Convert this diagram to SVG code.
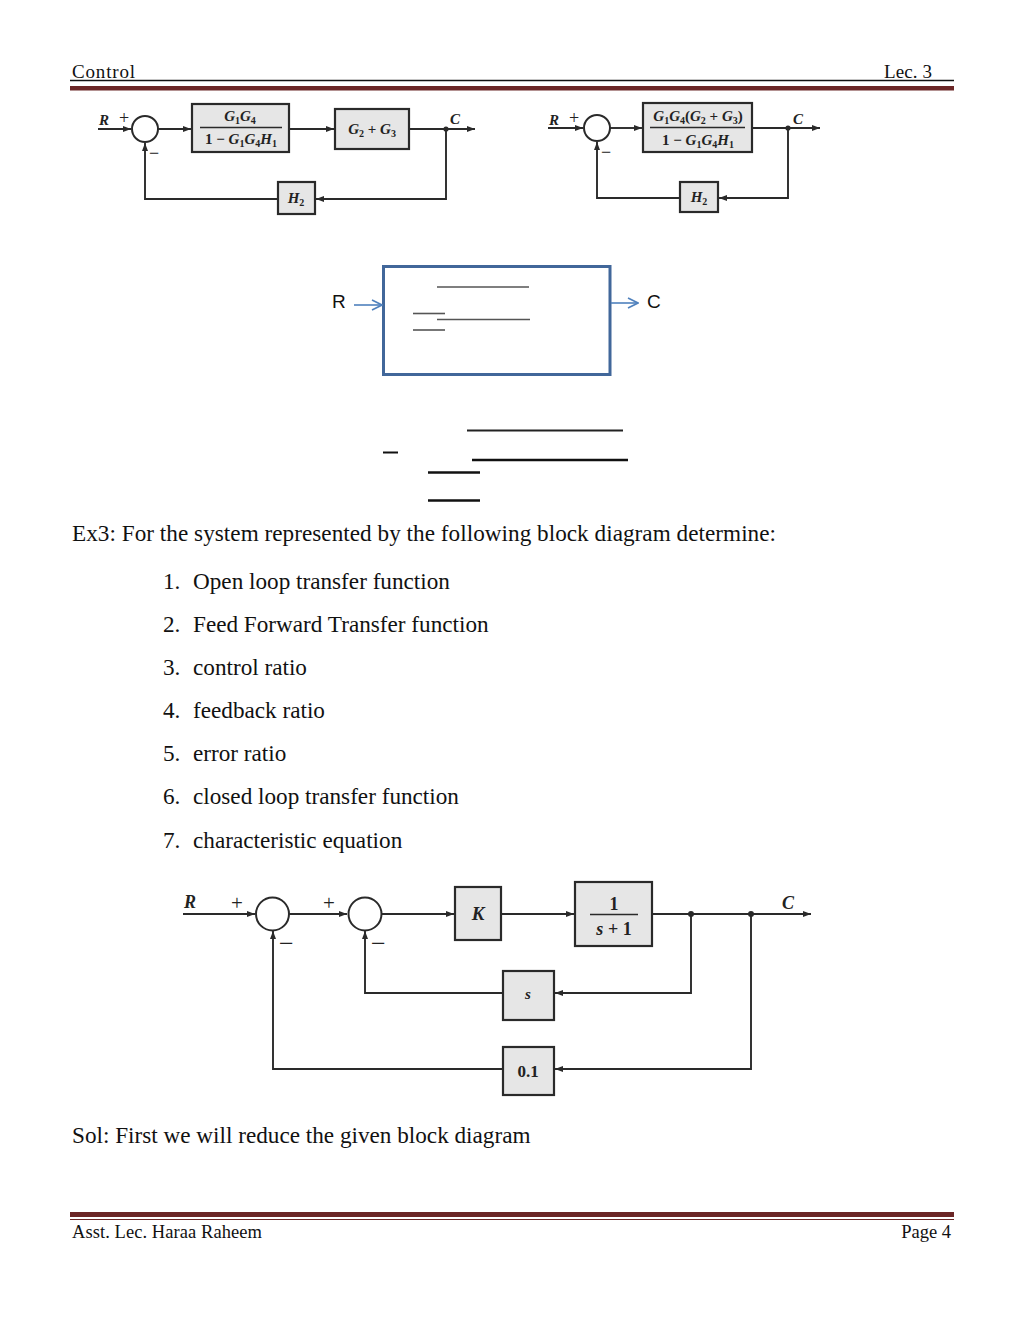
<svg xmlns="http://www.w3.org/2000/svg" width="1024" height="1325" viewBox="0 0 1024 1325">
<style>
.hdr{font-family:"Liberation Serif",serif;font-size:19px;fill:#111}
.body{font-family:"Liberation Serif",serif;font-size:23.2px;fill:#111}
.m{font-family:"Liberation Serif",serif;font-weight:bold;font-style:italic;fill:#222}
.u{font-style:normal}
.op{font-family:"Liberation Serif",serif;fill:#222}
.ln{fill:none;stroke:#2a2a2a;stroke-width:1.9}
.blk{fill:#e6e6e6;stroke:#2a2a2a;stroke-width:2.2}
.sum{fill:#fff;stroke:#2a2a2a;stroke-width:2}
.bl{fill:none;stroke:#4f81bd;stroke-width:1.6}
.gl{stroke:#555;stroke-width:1.6}
.kl{stroke:#111;stroke-width:2.5}
.cal{font-family:"Liberation Sans",sans-serif;font-size:19px;fill:#111}
</style>
<defs>
<marker id="ah" markerUnits="userSpaceOnUse" markerWidth="8" markerHeight="6" refX="8" refY="3" orient="auto">
<path d="M0,0 L8,3 L0,6 z" fill="#2a2a2a"/>
</marker>
<marker id="ab" markerUnits="userSpaceOnUse" markerWidth="12" markerHeight="12" refX="11" refY="6" orient="auto">
<path d="M1,1 L11,6 L1,11" fill="none" stroke="#4f81bd" stroke-width="1.6"/>
</marker>
</defs>
<rect width="1024" height="1325" fill="#fff"/>

<g id="header">
<text class="hdr" x="72" y="78" textLength="63">Control</text>
<text class="hdr" x="884" y="78" textLength="48">Lec. 3</text>
<line x1="70" y1="80.5" x2="954" y2="80.5" stroke="#111" stroke-width="1.3"/>
<rect x="70" y="86" width="884" height="4.5" fill="#6b2626"/>
</g>

<g id="footer">
<rect x="70" y="1212" width="884" height="5" fill="#6b2626"/>
<line x1="70" y1="1219.5" x2="954" y2="1219.5" stroke="#6b2626" stroke-width="1"/>
<text class="hdr" x="72" y="1238" textLength="190" style="font-size:18.5px">Asst. Lec. Haraa Raheem</text>
<text class="hdr" x="951" y="1238" text-anchor="end" style="font-size:18.5px">Page 4</text>
</g>

<!-- Top-left diagram -->
<g id="d1-labels">
<text class="m" x="99" y="125" font-size="15">R</text>
<text class="op" x="119" y="124" font-size="18">+</text>
<text class="op" x="149" y="159" font-size="18">−</text>
<text class="m" x="450" y="124" font-size="15">C</text>
</g>
<g id="d1-sum"><circle class="sum" cx="145" cy="129" r="13"/></g>
<g id="d1-b1">
<rect class="blk" x="192" y="104" width="97" height="48"/>
<text class="m" x="240" y="121" font-size="15" text-anchor="middle">G<tspan class="u" font-size="10" dy="3">1</tspan><tspan dy="-3">G</tspan><tspan class="u" font-size="10" dy="3">4</tspan></text>
<line x1="200" y1="127.5" x2="282" y2="127.5" stroke="#2a2a2a" stroke-width="1.3"/>
<text class="m" x="241" y="144" font-size="15" text-anchor="middle"><tspan class="u">1 − </tspan>G<tspan class="u" font-size="10" dy="3">1</tspan><tspan dy="-3">G</tspan><tspan class="u" font-size="10" dy="3">4</tspan><tspan dy="-3">H</tspan><tspan class="u" font-size="10" dy="3">1</tspan></text>
</g>
<g id="d1-b2">
<rect class="blk" x="335" y="109" width="74" height="40"/>
<text class="m" x="372" y="134" font-size="15" text-anchor="middle">G<tspan class="u" font-size="10" dy="3">2</tspan><tspan class="u" dy="-3"> + </tspan>G<tspan class="u" font-size="10" dy="3">3</tspan></text>
</g>
<g id="d1-h2">
<rect class="blk" x="278" y="182" width="37" height="32"/>
<text class="m" x="296" y="203" font-size="15" text-anchor="middle">H<tspan class="u" font-size="10" dy="3">2</tspan></text>
</g>
<g id="d1-connectors">
<path class="ln" d="M98,129 H131" marker-end="url(#ah)"/>
<path class="ln" d="M158,129 H191" marker-end="url(#ah)"/>
<path class="ln" d="M289,129 H334" marker-end="url(#ah)"/>
<path class="ln" d="M409,129 H475" marker-end="url(#ah)"/>
<circle cx="446" cy="129" r="2.6" fill="#2a2a2a"/>
<path class="ln" d="M446,129 V199 H316" marker-end="url(#ah)"/>
<path class="ln" d="M278,199 H145 V143" marker-end="url(#ah)"/>
</g>

<!-- Top-right diagram -->
<g id="d2-labels">
<text class="m" x="549" y="125" font-size="15">R</text>
<text class="op" x="569" y="124" font-size="18">+</text>
<text class="op" x="601" y="158" font-size="18">−</text>
<text class="m" x="793" y="124" font-size="15">C</text>
</g>
<g id="d2-sum"><circle class="sum" cx="597" cy="128" r="13"/></g>
<g id="d2-b1">
<rect class="blk" x="643" y="103" width="109" height="49"/>
<text class="m" x="698" y="121" font-size="15" text-anchor="middle">G<tspan class="u" font-size="10" dy="3">1</tspan><tspan dy="-3">G</tspan><tspan class="u" font-size="10" dy="3">4</tspan><tspan class="u" dy="-3">(</tspan>G<tspan class="u" font-size="10" dy="3">2</tspan><tspan class="u" dy="-3"> + </tspan>G<tspan class="u" font-size="10" dy="3">3</tspan><tspan class="u" dy="-3">)</tspan></text>
<line x1="650" y1="127.5" x2="745" y2="127.5" stroke="#2a2a2a" stroke-width="1.3"/>
<text class="m" x="698" y="145" font-size="15" text-anchor="middle"><tspan class="u">1 − </tspan>G<tspan class="u" font-size="10" dy="3">1</tspan><tspan dy="-3">G</tspan><tspan class="u" font-size="10" dy="3">4</tspan><tspan dy="-3">H</tspan><tspan class="u" font-size="10" dy="3">1</tspan></text>
</g>
<g id="d2-h2">
<rect class="blk" x="680" y="182" width="38" height="30"/>
<text class="m" x="699" y="202" font-size="15" text-anchor="middle">H<tspan class="u" font-size="10" dy="3">2</tspan></text>
</g>
<g id="d2-connectors">
<path class="ln" d="M548,128 H583" marker-end="url(#ah)"/>
<path class="ln" d="M610,128 H642" marker-end="url(#ah)"/>
<path class="ln" d="M752,128 H820" marker-end="url(#ah)"/>
<circle cx="788" cy="128" r="2.6" fill="#2a2a2a"/>
<path class="ln" d="M788,128 V198 H719" marker-end="url(#ah)"/>
<path class="ln" d="M680,198 H597 V142" marker-end="url(#ah)"/>
</g>

<!-- Middle block -->
<g id="mid-box">
<rect x="383.5" y="266.5" width="226.5" height="108" fill="none" stroke="#41679a" stroke-width="3"/>
<line class="gl" x1="437" y1="287" x2="529" y2="287"/>
<line class="gl" x1="413" y1="313.5" x2="445" y2="313.5"/>
<line class="gl" x1="437" y1="319.5" x2="530" y2="319.5"/>
<line class="gl" x1="413" y1="330" x2="445" y2="330"/>
</g>
<g id="mid-labels">
<text class="cal" x="332" y="308">R</text>
<text class="cal" x="647" y="308">C</text>
</g>
<g id="mid-connectors">
<path class="bl" d="M354,305 H382" marker-end="url(#ab)"/>
<path class="bl" d="M611,303 H638" marker-end="url(#ab)"/>
</g>

<g id="fraction-lines">
<line x1="467" y1="430.5" x2="623" y2="430.5" stroke="#222" stroke-width="2"/>
<line x1="383" y1="452.5" x2="398" y2="452.5" stroke="#111" stroke-width="2"/>
<line class="kl" x1="472" y1="460" x2="628" y2="460"/>
<line class="kl" x1="428" y1="472.5" x2="480" y2="472.5"/>
<line class="kl" x1="428" y1="500.5" x2="480" y2="500.5"/>
</g>

<g id="text">
<text class="body" x="72" y="541" textLength="704">Ex3: For the system represented by the following block diagram determine:</text>
<text class="body" x="163" y="589">1.</text><text class="body" x="193" y="589">Open loop transfer function</text>
<text class="body" x="163" y="632">2.</text><text class="body" x="193" y="632">Feed Forward Transfer function</text>
<text class="body" x="163" y="675">3.</text><text class="body" x="193" y="675">control ratio</text>
<text class="body" x="163" y="718">4.</text><text class="body" x="193" y="718">feedback ratio</text>
<text class="body" x="163" y="761">5.</text><text class="body" x="193" y="761">error ratio</text>
<text class="body" x="163" y="804">6.</text><text class="body" x="193" y="804">closed loop transfer function</text>
<text class="body" x="163" y="848">7.</text><text class="body" x="193" y="848">characteristic equation</text>
<text class="body" x="72" y="1143">Sol: First we will reduce the given block diagram</text>
</g>

<!-- Bottom diagram -->
<g id="d3-labels">
<text class="m" x="184" y="908" font-size="18">R</text>
<text class="op" x="231" y="910" font-size="21">+</text>
<text class="op" x="323" y="910" font-size="21">+</text>
<text class="op" x="279" y="952" font-size="26">−</text>
<text class="op" x="371" y="952" font-size="26">−</text>
<text class="m" x="782" y="909" font-size="18">C</text>
</g>
<g id="d3-sum1"><circle class="sum" cx="272.5" cy="914" r="16.5"/></g>
<g id="d3-sum2"><circle class="sum" cx="365" cy="914" r="16.5"/></g>
<g id="d3-k">
<rect class="blk" x="455" y="887" width="46" height="53"/>
<text class="m" x="478" y="920" font-size="19" text-anchor="middle">K</text>
</g>
<g id="d3-plant">
<rect class="blk" x="575" y="882" width="77" height="64"/>
<text class="m u" x="614" y="910" font-size="18" text-anchor="middle">1</text>
<line x1="590" y1="914.5" x2="638" y2="914.5" stroke="#2a2a2a" stroke-width="1.3"/>
<text class="m" x="614" y="935" font-size="18" text-anchor="middle">s<tspan class="u"> + 1</tspan></text>
</g>
<g id="d3-s">
<rect class="blk" x="503" y="971" width="51" height="49"/>
<text class="m" x="528" y="999" font-size="15" text-anchor="middle">s</text>
</g>
<g id="d3-01">
<rect class="blk" x="503" y="1047" width="51" height="48"/>
<text class="m u" x="528" y="1077" font-size="17" text-anchor="middle">0.1</text>
</g>
<g id="d3-connectors">
<path class="ln" d="M183,914 H255" marker-end="url(#ah)"/>
<path class="ln" d="M289,914 H347" marker-end="url(#ah)"/>
<path class="ln" d="M382,914 H454" marker-end="url(#ah)"/>
<path class="ln" d="M501,914 H574" marker-end="url(#ah)"/>
<path class="ln" d="M652,914 H811" marker-end="url(#ah)"/>
<circle cx="691" cy="914" r="3" fill="#2a2a2a"/>
<circle cx="751" cy="914" r="3" fill="#2a2a2a"/>
<path class="ln" d="M691,914 V993 H555" marker-end="url(#ah)"/>
<path class="ln" d="M503,993 H365 V931" marker-end="url(#ah)"/>
<path class="ln" d="M751,914 V1069 H555" marker-end="url(#ah)"/>
<path class="ln" d="M503,1069 H273 V931" marker-end="url(#ah)"/>
</g>
</svg>
